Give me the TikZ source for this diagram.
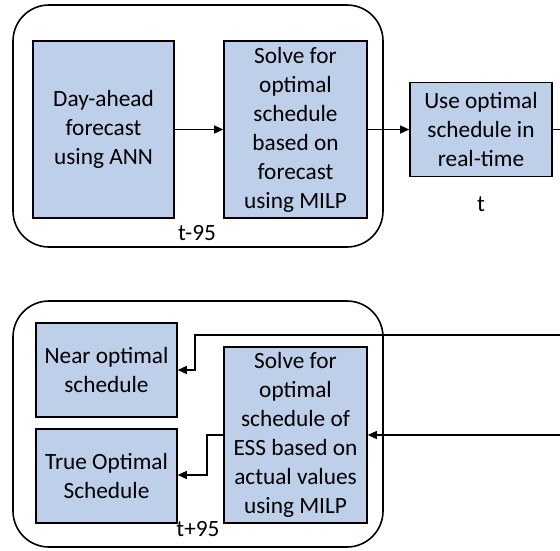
\documentclass[tikz,border=0pt]{standalone}
\usepackage{fontspec}
\setmainfont{Carlito}
\usetikzlibrary{arrows.meta}
\definecolor{boxblue}{RGB}{189,207,233}
\begin{document}
\begin{tikzpicture}[x=1pt,y=-1pt,
  txt/.style={font=\fontsize{23.3}{29}\selectfont, align=center, inner sep=0pt},
  stepbox/.style={txt, draw=black, line width=1.6pt, fill=boxblue},
  group/.style={draw=black, line width=1.6pt, rounded corners=36pt},
  conn/.style={line width=1.4pt},
  arr/.style={conn, -{Triangle[length=9pt,width=8pt]}}]
\useasboundingbox (0,0) rectangle (560,550);
% groups
\draw[group] (13,5) rectangle (383,247);
\draw[group] (13,301) rectangle (383,547);
% top boxes
\node[stepbox, minimum width=141pt, minimum height=177pt] (A) at (103.5,129.5) {Day-ahead\\forecast\\using ANN};
\node[stepbox, minimum width=143pt, minimum height=177pt] (B) at (295.5,129.5) {Solve for\\optimal\\schedule\\based on\\forecast\\using MILP};
\node[stepbox, minimum width=142pt, minimum height=94pt] (C) at (481,129.5) {Use optimal\\schedule in\\real-time};
\node[txt] (lt95) at (197,233) {t-95};
\node[txt] (lt) at (481,204) {t};
% bottom boxes
\node[stepbox, minimum width=141pt, minimum height=94pt] (N) at (106.5,370) {Near optimal\\schedule};
\node[stepbox, minimum width=141pt, minimum height=94pt] (T) at (106.5,476) {True Optimal\\Schedule};
\node[stepbox, minimum width=143pt, minimum height=176pt] (E) at (295.5,435) {Solve for\\optimal\\schedule of\\ESS based on\\actual values\\using MILP};
\node[txt] (lt95b) at (198,529) {t+95};
% free ends
\coordinate (outC) at (560,129.5);
\coordinate (in1) at (560,335);
\coordinate (in2) at (560,435);
% connectors
\draw[arr] (A.east) -- (B.west);
\draw[arr] (B.east) -- (C.west);
\draw[conn] (C.east) -- (outC);
\draw[arr] (in1) -- (195,335) -- (195,370) -- (N.east);
\draw[arr] (in2) -- (E.east);
\draw[arr] (E.west) -- (207,435) -- (207,475) -- (T.east |- 0,475);
\end{tikzpicture}
\end{document}
